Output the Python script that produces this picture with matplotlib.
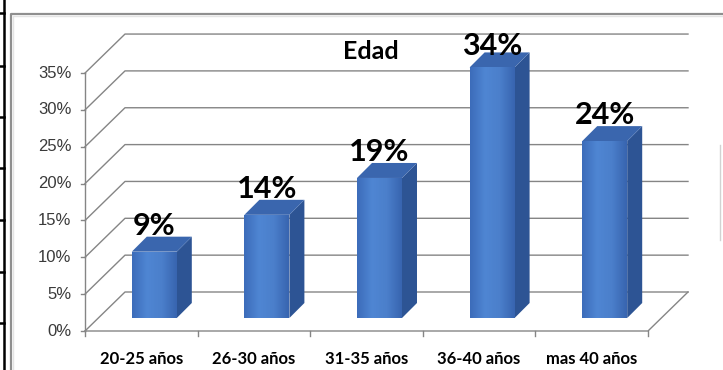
import numpy as np
import matplotlib
matplotlib.use('Agg')
import matplotlib.pyplot as plt
from matplotlib.colors import LinearSegmentedColormap
from matplotlib.lines import Line2D
from matplotlib.patches import Polygon

# datos de la encuesta: distribución por edad
categorias = ['20-25 años', '26-30 años', '31-35 años', '36-40 años', 'mas 40 años']
porcentajes = [9, 14, 19, 34, 24]
ticks_y = [0, 5, 10, 15, 20, 25, 30, 35]
titulo = 'Edad'

fuente = ['DejaVu Sans Condensed', 'Liberation Sans Narrow', 'Lato', 'DejaVu Sans']
plt.rcParams['font.family'] = fuente

W, H = 723, 370
fig = plt.figure(figsize=(W / 100, H / 100), dpi=100)
fig.patch.set_facecolor('white')
ax = fig.add_axes([0, 0, 1, 1])
ax.set_axis_off()

# escala: pixeles por categoria y por punto porcentual, origen frontal
px_cat, px_pct = 112.6, 7.37
x0_px, y0_px = 85, 331

# profundidad de la perspectiva 3D
wall_dx, wall_dy = 40 / px_cat, 39 / px_pct
bar_ox, bar_oy = 13 / px_cat, 13 / px_pct
bar_dx, bar_dy = 15 / px_cat, 15 / px_pct
bar_w = 45 / px_cat

n = len(categorias)
x_left, x_right = -0.5, n - 0.5
ymax = ticks_y[-1]
grid_c = '#858585'

# pared del fondo y pared izquierda
for t in ticks_y:
    ax.plot([x_left, x_left + wall_dx, x_right + wall_dx],
            [t, t + wall_dy, t + wall_dy], color=grid_c, lw=1.0, zorder=1)
    ax.plot([x_left - 0.035, x_left], [t, t], color=grid_c, lw=1.0, zorder=1)
    ax.text(x_left - 0.12, t, f'{t}%', ha='right', va='center', fontsize=12,
            family=['Liberation Sans', 'DejaVu Sans'], color='#3a3a3a')

# eje vertical y piso
ax.plot([x_left, x_left], [0, ymax], color=grid_c, lw=1.0, zorder=1)
ax.plot([x_left, x_right, x_right + wall_dx], [0, 0, wall_dy],
        color=grid_c, lw=1.0, zorder=1)
for i in range(n + 1):
    ax.plot([x_left + i, x_left + i], [0, -0.7], color=grid_c, lw=1.0, zorder=1)

cmap = LinearSegmentedColormap.from_list(
    'cara', ['#3c6cba', '#4f86d3', '#4b7fcb', '#3865b0'])
grad = np.linspace(0, 1, 64).reshape(1, -1)

xs = np.arange(n) + bar_ox
bars = ax.bar(xs, porcentajes, width=bar_w, bottom=bar_oy, color='#4679c5',
              linewidth=0, zorder=3)

for x, v, rect in zip(xs, porcentajes, bars):
    xl, xr = x - bar_w / 2, x + bar_w / 2
    yb, yt = bar_oy, bar_oy + v
    im = ax.imshow(grad, cmap=cmap, aspect='auto', extent=[xl, xr, yb, yt],
                   zorder=3.5, interpolation='bicubic')
    im.set_clip_path(rect)
    lado = Polygon([[xr, yb], [xr + bar_dx, yb + bar_dy],
                    [xr + bar_dx, yt + bar_dy], [xr, yt]],
                   closed=True, facecolor='#2d5494', edgecolor='none', zorder=3)
    tapa = Polygon([[xl, yt], [xr, yt], [xr + bar_dx, yt + bar_dy],
                    [xl + bar_dx, yt + bar_dy]],
                   closed=True, facecolor='#3a66ae', edgecolor='none', zorder=3)
    ax.add_patch(lado)
    ax.add_patch(tapa)
    # etiqueta de valor encima de la barra, sin salir del área
    y_lab = min(yt + 17 / px_pct, 37.4)
    ax.text(x, y_lab, f'{v}%', ha='center', va='baseline', fontsize=22,
            fontweight='bold', color='black', zorder=5)

ax.set_xlim(-0.5 - x0_px / px_cat, -0.5 + (W - x0_px) / px_cat)
ax.set_ylim(-(H - y0_px) / px_pct, y0_px / px_pct)

for i, cat in enumerate(categorias):
    ax.text(i, -28 / px_pct, cat, ha='center', va='center', fontsize=12,
            fontweight='bold', color='black')

ax.text(2.04, 37.9, titulo, ha='center', va='center', fontsize=18,
        fontweight='bold', color='black', zorder=5)


def fpx(xp, yp):
    return xp / W, 1 - yp / H


def linea(pts, **kw):
    xs_, ys_ = zip(*[fpx(*p) for p in pts])
    fig.add_artist(Line2D(xs_, ys_, transform=fig.transFigure, **kw))


# marco del gráfico
linea([(11, 370), (11, 13.5), (723, 13.5)], color='#8f8f8f', lw=1.6)
linea([(13, 370), (13, 15.5), (723, 15.5)], color='#e4e4e4', lw=1.0)
linea([(720, 145), (720, 240)], color='#d2d2d2', lw=1.0)

# borde de la tabla a la izquierda
linea([(4, 0), (4, 370)], color='black', lw=1.8)
for yp in [13, 66, 117, 168, 220, 272, 323]:
    linea([(0, yp), (4, yp)], color='black', lw=1.8)

fig.savefig('out.png', dpi=100, facecolor='white')
